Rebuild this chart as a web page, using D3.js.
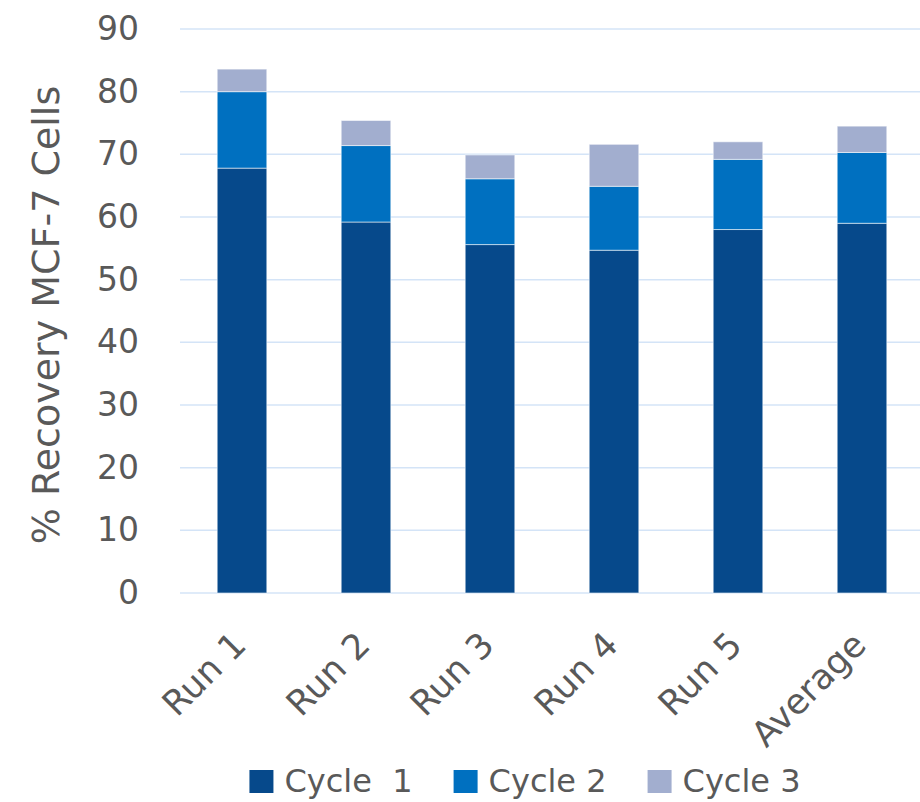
<!DOCTYPE html>
<html>
<head>
<meta charset="utf-8">
<script src="https://cdn.jsdelivr.net/npm/d3@7"></script>
<style>
  body { margin: 0; background: #fff; }
  svg { display: block; font-family: "DejaVu Sans", sans-serif; }
</style>
</head>
<body>
<svg id="chart" width="920" height="802"></svg>
<script>
// data
const categories = ['Run 1', 'Run 2', 'Run 3', 'Run 4', 'Run 5', 'Average'];
const seriesNames = ['Cycle  1', 'Cycle 2', 'Cycle 3'];
const cycle1 = [67.8, 59.2, 55.6, 54.7, 58.0, 59.0];
const cycle2 = [12.2, 12.2, 10.5, 10.2, 11.2, 11.3];
const cycle3 = [3.6, 4.0, 3.8, 6.7, 2.8, 4.2];
const yTicks = [0, 10, 20, 30, 40, 50, 60, 70, 80, 90];
const colors = ['#06498B', '#0070C0', '#A2AECF'];

const svg = d3.select('#chart');
const textColor = '#595959';
const gridColor = '#D4E4F7';

const x = d3.scaleBand()
    .domain(categories)
    .range([180, 924])
    .paddingInner(0.6)
    .paddingOuter(0.3);

const y = d3.scaleLinear()
    .domain([0, 90])
    .range([593, 29]);

// gridlines
svg.append('g')
    .selectAll('line')
    .data(yTicks)
    .enter().append('line')
    .attr('x1', 180)
    .attr('x2', 920)
    .attr('y1', d => y(d))
    .attr('y2', d => y(d))
    .attr('stroke', gridColor)
    .attr('stroke-width', 1.5);

// y axis labels
const yAxis = svg.append('g')
    .attr('transform', 'translate(180,0)')
    .call(d3.axisLeft(y).tickValues(yTicks).tickSize(0).tickPadding(41));
yAxis.select('.domain').remove();
yAxis.selectAll('text')
    .attr('fill', textColor)
    .style('font-size', '33px')
    .style('font-family', '"DejaVu Sans", sans-serif');

// stacked bars
const rows = categories.map((c, i) => ({ cat: c, c1: cycle1[i], c2: cycle2[i], c3: cycle3[i] }));
const stack = d3.stack().keys(['c1', 'c2', 'c3']);

svg.append('g')
    .selectAll('g')
    .data(stack(rows))
    .enter().append('g')
    .attr('fill', (d, i) => colors[i])
    .selectAll('rect')
    .data(d => d)
    .enter().append('rect')
    .attr('x', d => x(d.data.cat))
    .attr('y', d => y(d[1]))
    .attr('width', x.bandwidth())
    .attr('height', d => y(d[0]) - y(d[1]))
    .attr('stroke', '#ffffff')
    .attr('stroke-opacity', 0.55)
    .attr('stroke-width', 1);

// x labels, rotated
const xAxis = svg.append('g')
    .attr('transform', 'translate(0,593)')
    .call(d3.axisBottom(x).tickSize(0));
xAxis.select('.domain').remove();
xAxis.selectAll('text')
    .attr('fill', textColor)
    .style('font-size', '35px')
    .style('font-family', '"DejaVu Sans", sans-serif')
    .attr('text-anchor', 'end')
    .attr('dy', null)
    .attr('y', 0)
    .attr('transform', 'translate(6,54) rotate(-45)');

// y axis title
svg.append('text')
    .attr('transform', 'translate(59,315) rotate(-90)')
    .attr('text-anchor', 'middle')
    .attr('fill', textColor)
    .style('font-size', '38px')
    .text('% Recovery MCF-7 Cells');

// legend
const legend = svg.append('g');
let lx = 0;
seriesNames.forEach((name, i) => {
    const item = legend.append('g').attr('transform', `translate(${lx},0)`);
    item.append('rect')
        .attr('x', 0)
        .attr('y', 770)
        .attr('width', 24)
        .attr('height', 23)
        .attr('fill', colors[i]);
    const t = item.append('text')
        .attr('x', 35)
        .attr('y', 792)
        .attr('fill', textColor)
        .style('font-size', '32px')
        .style('white-space', 'pre')
        .text(name);
    lx += 35 + t.node().getComputedTextLength() + 41;
});
const legendWidth = lx - 41;
legend.attr('transform', `translate(${525 - legendWidth / 2},0)`);
</script>
</body>
</html>
